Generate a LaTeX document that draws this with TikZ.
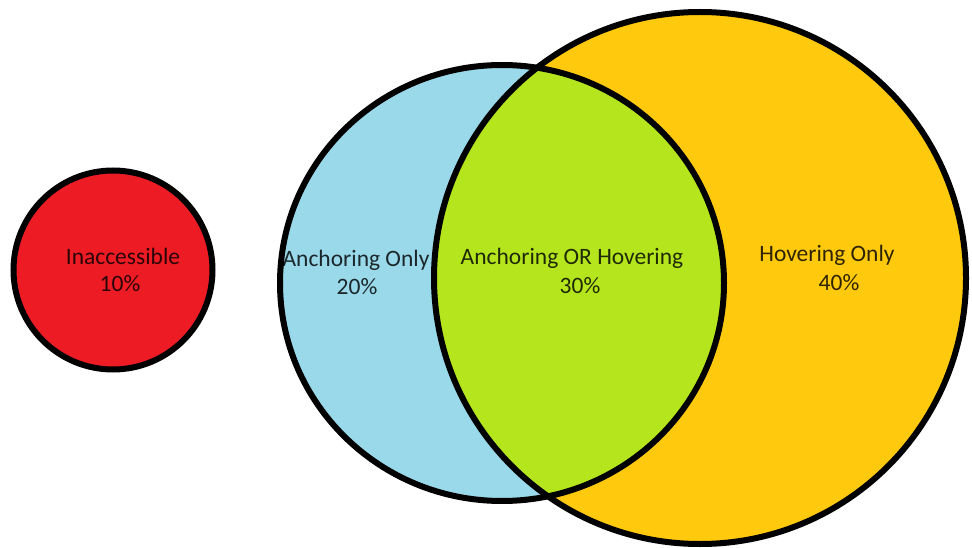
\documentclass[tikz,border=0pt]{standalone}
\usepackage{fontspec}
\setmainfont{Carlito}
\definecolor{redc}{HTML}{ED1C24}
\definecolor{bluec}{HTML}{99D9EA}
\definecolor{yellowc}{HTML}{FFC90E}
\definecolor{greenc}{HTML}{B5E61D}
\begin{document}
\begin{tikzpicture}[x=1pt,y=-1pt,
  outline/.style={draw=black,line width=6pt},
  lbl/.style={inner sep=0pt,font=\fontsize{23.5}{26}\selectfont,text=black,text opacity=0.82}]
\useasboundingbox (0,0) rectangle (972,548);
\clip (0,0) rectangle (972,548);
\fill[white] (0,0) rectangle (972,548);
% red circle
\fill[redc] (113,270) circle (99.5);
\draw[outline] (113,270) circle (99.5);
% blue and yellow
\fill[bluec] (502,283) ellipse [x radius=222, y radius=218];
\fill[yellowc] (700,278) circle (266);
\begin{scope}
  \clip (502,283) ellipse [x radius=222, y radius=218];
  \fill[greenc] (700,278) circle (266);
\end{scope}
\draw[outline] (502,283) ellipse [x radius=222, y radius=218];
\draw[outline] (700,278) circle (266);
% labels
\node[lbl] (ina) at (123,256) {Inaccessible};
\node[lbl] (ina2) at (120,284) {10\%};
\node[lbl] (anc) at (356,260) {Anchoring Only};
\node[lbl] (anc2) at (357,287) {20\%};
\node[lbl] (aoh) at (572,258) {Anchoring OR Hovering};
\node[lbl] (aoh2) at (580,286) {30\%};
\node[lbl] (hov) at (827,255) {Hovering Only};
\node[lbl] (hov2) at (839,283) {40\%};
\end{tikzpicture}
\end{document}
